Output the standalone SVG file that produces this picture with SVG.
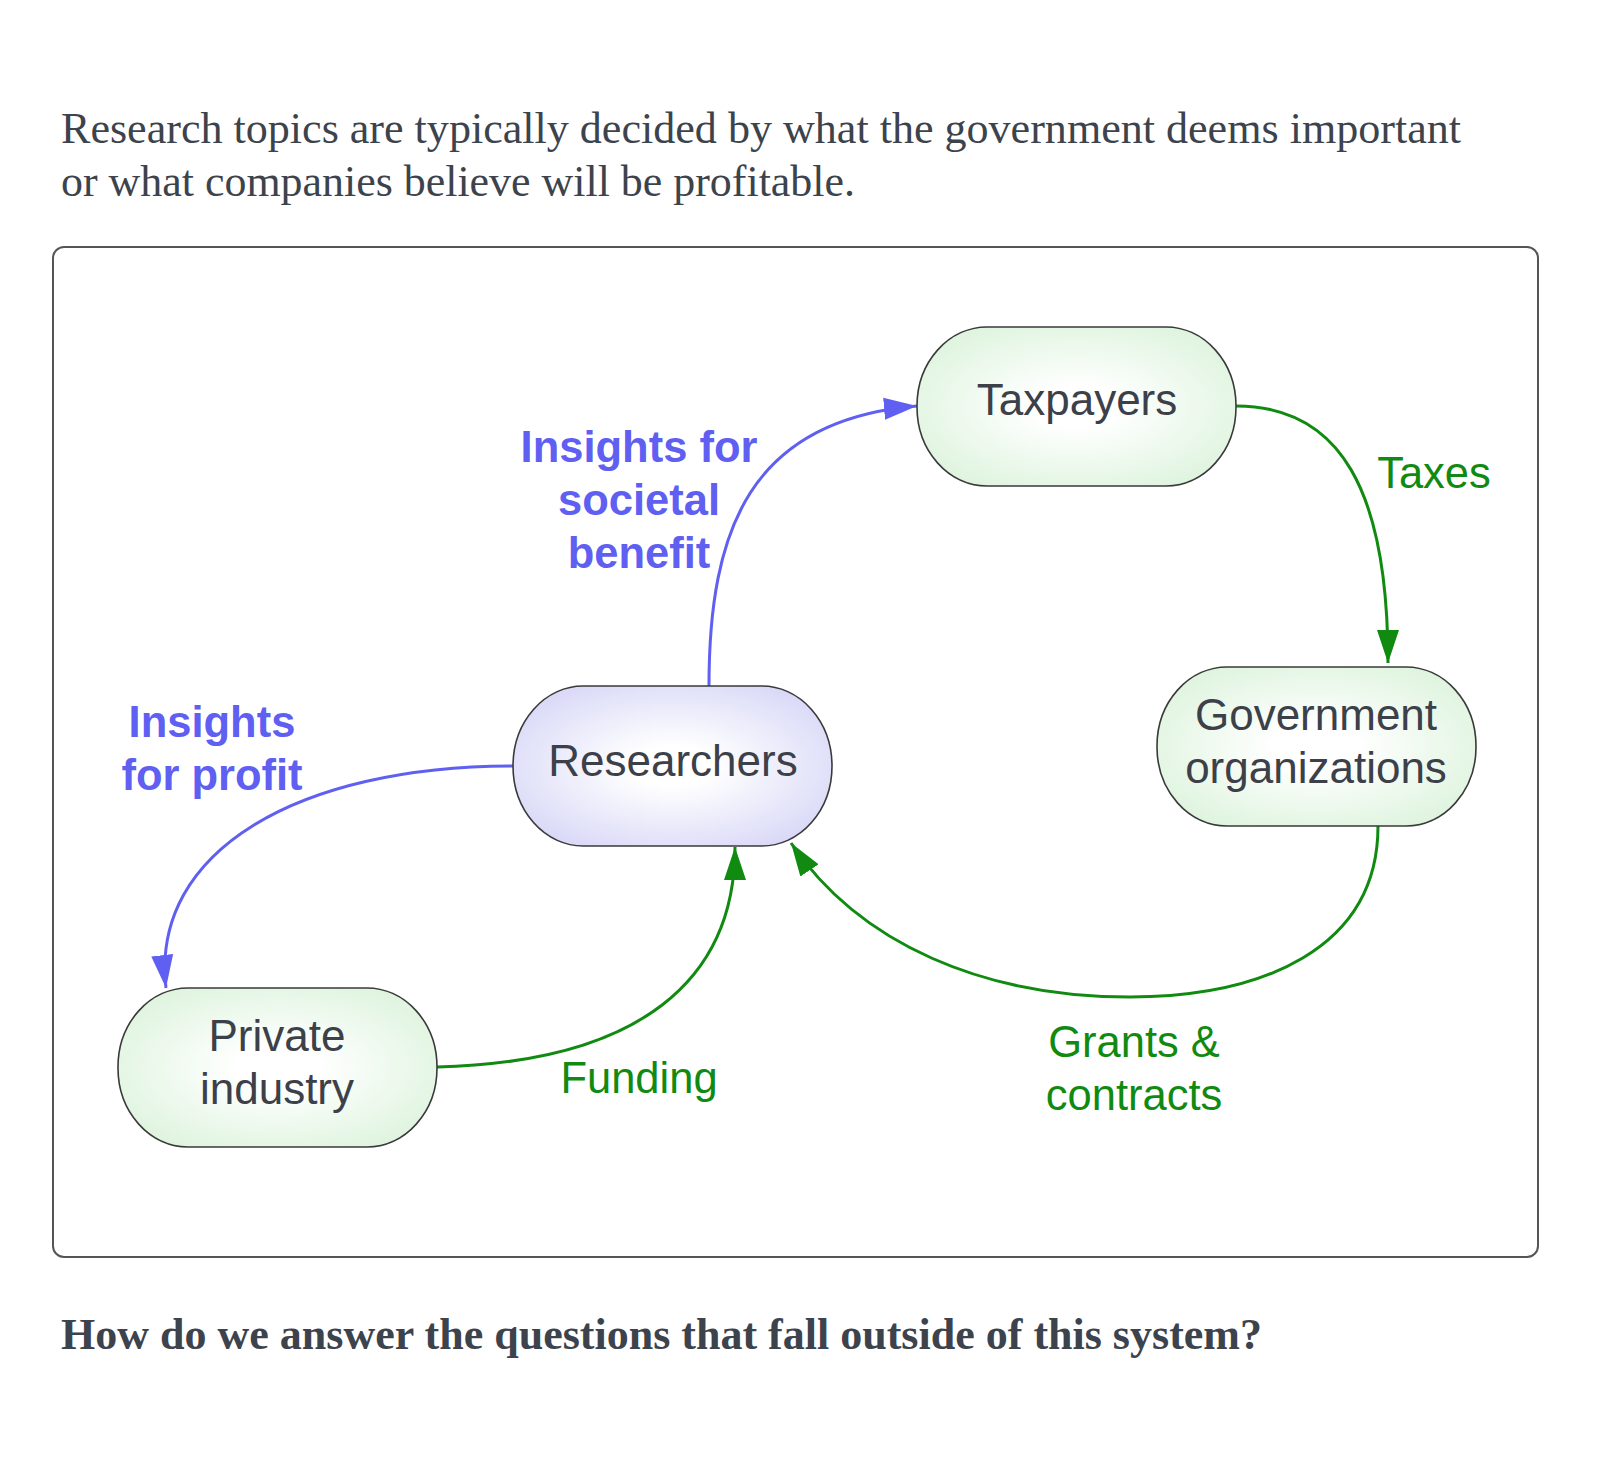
<svg xmlns="http://www.w3.org/2000/svg" width="1600" height="1472" viewBox="0 0 1600 1472">
<defs>
<radialGradient id="gGreen" cx="50%" cy="50%" r="62%">
<stop offset="0.2" stop-color="#ffffff"/>
<stop offset="1" stop-color="#dcf3dc"/>
</radialGradient>
<radialGradient id="gBlue" cx="50%" cy="50%" r="62%">
<stop offset="0.2" stop-color="#ffffff"/>
<stop offset="1" stop-color="#d6d6f7"/>
</radialGradient>
<marker id="arrBlue" markerUnits="userSpaceOnUse" markerWidth="40" markerHeight="40" refX="33" refY="11" orient="auto" viewBox="0 0 40 22">
<path d="M0,0 L33,11 L0,22 Z" fill="#5f5ff2"/>
</marker>
<marker id="arrGreen" markerUnits="userSpaceOnUse" markerWidth="40" markerHeight="40" refX="33" refY="11" orient="auto" viewBox="0 0 40 22">
<path d="M0,0 L33,11 L0,22 Z" fill="#108a10"/>
</marker>
</defs>
<style>
.head{font-family:"Liberation Serif",serif;font-size:44px;fill:#3d434c}
.q{font-family:"Liberation Serif",serif;font-size:44px;font-weight:bold;fill:#3d434c}
.node{stroke:#3a3a3a;stroke-width:1.6}
.nt{font-family:"Liberation Sans",Arial,sans-serif;font-size:44px;fill:#3c4049;text-anchor:middle}
.bl{font-family:"Liberation Sans",Arial,sans-serif;font-size:43.5px;font-weight:bold;fill:#5f5ff2;text-anchor:middle}
.gl{font-family:"Liberation Sans",Arial,sans-serif;font-size:43.5px;fill:#108a10;text-anchor:middle}
.cb{fill:none;stroke:#5f5ff2;stroke-width:3;marker-end:url(#arrBlue)}
.cg{fill:none;stroke:#108a10;stroke-width:3;marker-end:url(#arrGreen)}
</style>
<rect width="1600" height="1472" fill="#ffffff"/>
<text class="head" x="61" y="143" textLength="1400" lengthAdjust="spacingAndGlyphs">Research topics are typically decided by what the government deems important</text>
<text class="head" x="61" y="196" textLength="794" lengthAdjust="spacingAndGlyphs">or what companies believe will be profitable.</text>
<rect x="53" y="247" width="1485" height="1010" rx="11" ry="11" fill="none" stroke="#555" stroke-width="2"/>
<g id="connectors">
<path class="cb" d="M709,686 C709,530 750,420 917,406"/>
<path class="cb" d="M513,766 C300,766 150,850 166,988"/>
<path class="cg" d="M1236,406 C1340,406 1388,490 1388,663"/>
<path class="cg" d="M1378,826 C1378,950 1260,997 1130,997 C985,997 860,945 791,843"/>
<path class="cg" d="M437,1067 C640,1062 735,980 735,847"/>
</g>
<g id="taxpayers">
<rect class="node" x="917" y="327" width="319" height="159" rx="70" ry="79" fill="url(#gGreen)"/>
<text class="nt" x="1077" y="415">Taxpayers</text>
</g>
<g id="researchers">
<rect class="node" x="513" y="686" width="319" height="160" rx="70" ry="80" fill="url(#gBlue)"/>
<text class="nt" x="673" y="776">Researchers</text>
</g>
<g id="government">
<rect class="node" x="1157" y="667" width="319" height="159" rx="70" ry="79" fill="url(#gGreen)"/>
<text class="nt" x="1316" y="730">Government</text>
<text class="nt" x="1316" y="783">organizations</text>
</g>
<g id="private">
<rect class="node" x="118" y="988" width="319" height="159" rx="70" ry="79" fill="url(#gGreen)"/>
<text class="nt" x="277" y="1051">Private</text>
<text class="nt" x="277" y="1104">industry</text>
</g>
<g id="labels">
<text class="bl" x="639" y="462">Insights for</text>
<text class="bl" x="639" y="515">societal</text>
<text class="bl" x="639" y="568">benefit</text>
<text class="bl" x="212" y="737">Insights</text>
<text class="bl" x="212" y="790">for profit</text>
<text class="gl" x="1434" y="488">Taxes</text>
<text class="gl" x="639" y="1093">Funding</text>
<text class="gl" x="1134" y="1057">Grants &amp;</text>
<text class="gl" x="1134" y="1110">contracts</text>
</g>
<text class="q" x="61" y="1349" textLength="1201" lengthAdjust="spacingAndGlyphs">How do we answer the questions that fall outside of this system?</text>
</svg>
